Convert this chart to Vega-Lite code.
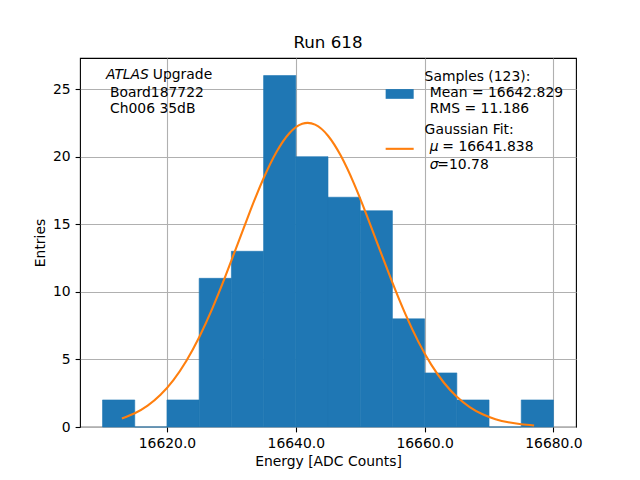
{
  "$schema": "https://vega.github.io/schema/vega-lite/v6.json",
  "width": 496,
  "height": 369,
  "autosize": {"type": "none"},
  "padding": {"left": 80, "top": 58, "right": 64, "bottom": 53},
  "background": "white",
  "title": {"text": "Run 618", "fontSize": 16.7, "fontWeight": "normal", "font": "DejaVu Sans", "color": "black", "offset": 6},
  "config": {
    "font": "DejaVu Sans",
    "view": {"stroke": "black", "strokeWidth": 1.1},
    "axis": {
      "labelFont": "DejaVu Sans",
      "labelFontSize": 13.9,
      "labelColor": "black",
      "titleFont": "DejaVu Sans",
      "titleFontSize": 13.9,
      "titleFontWeight": "normal",
      "titleColor": "black",
      "tickColor": "black",
      "tickSize": 4.9,
      "tickWidth": 1.1,
      "labelPadding": 4.9,
      "domain": false,
      "gridColor": "#b0b0b0",
      "gridWidth": 1.1,
      "gridOpacity": 1,
      "zindex": 1
    }
  },
  "datasets": {
    "hist": [
      {"bin_start": 16610, "bin_end": 16615, "count": 2},
      {"bin_start": 16615, "bin_end": 16620, "count": 0},
      {"bin_start": 16620, "bin_end": 16625, "count": 2},
      {"bin_start": 16625, "bin_end": 16630, "count": 11},
      {"bin_start": 16630, "bin_end": 16635, "count": 13},
      {"bin_start": 16635, "bin_end": 16640, "count": 26},
      {"bin_start": 16640, "bin_end": 16645, "count": 20},
      {"bin_start": 16645, "bin_end": 16650, "count": 17},
      {"bin_start": 16650, "bin_end": 16655, "count": 16},
      {"bin_start": 16655, "bin_end": 16660, "count": 8},
      {"bin_start": 16660, "bin_end": 16665, "count": 4},
      {"bin_start": 16665, "bin_end": 16670, "count": 2},
      {"bin_start": 16670, "bin_end": 16675, "count": 0},
      {"bin_start": 16675, "bin_end": 16680, "count": 2}
    ],
    "fit": [
      {"energy": 16613, "entries": 0.628},
      {"energy": 16615, "entries": 1.015},
      {"energy": 16617, "entries": 1.582},
      {"energy": 16619, "entries": 2.385},
      {"energy": 16621, "entries": 3.474},
      {"energy": 16623, "entries": 4.887},
      {"energy": 16625, "entries": 6.645},
      {"energy": 16627, "entries": 8.726},
      {"energy": 16629, "entries": 11.07},
      {"energy": 16631, "entries": 13.57},
      {"energy": 16633, "entries": 16.08},
      {"energy": 16635, "entries": 18.40},
      {"energy": 16637, "entries": 20.34},
      {"energy": 16639, "entries": 21.73},
      {"energy": 16641, "entries": 22.43},
      {"energy": 16643, "entries": 22.37},
      {"energy": 16645, "entries": 21.55},
      {"energy": 16647, "entries": 20.06},
      {"energy": 16649, "entries": 18.04},
      {"energy": 16651, "entries": 15.68},
      {"energy": 16653, "entries": 13.16},
      {"energy": 16655, "entries": 10.68},
      {"energy": 16657, "entries": 8.368},
      {"energy": 16659, "entries": 6.336},
      {"energy": 16661, "entries": 4.635},
      {"energy": 16663, "entries": 3.276},
      {"energy": 16665, "entries": 2.237},
      {"energy": 16667, "entries": 1.476},
      {"energy": 16669, "entries": 0.941},
      {"energy": 16671, "entries": 0.580},
      {"energy": 16673, "entries": 0.345},
      {"energy": 16675, "entries": 0.198},
      {"energy": 16677, "entries": 0.110}
    ],
    "one": [{}]
  },
  "layer": [
    {
      "data": {"name": "hist"},
      "mark": {"type": "rect", "color": "#1f77b4", "stroke": "#1f77b4", "strokeWidth": 0.6},
      "encoding": {
        "x": {
          "field": "bin_start",
          "type": "quantitative",
          "title": "Energy [ADC Counts]",
          "scale": {"domain": [16606.5, 16683.5], "nice": false, "zero": false},
          "axis": {"values": [16620, 16640, 16660, 16680], "format": ".1f", "titlePadding": 4}
        },
        "x2": {"field": "bin_end"},
        "y": {
          "field": "count",
          "type": "quantitative",
          "title": "Entries",
          "scale": {"domain": [0, 27.3], "nice": false},
          "axis": {"values": [0, 5, 10, 15, 20, 25], "titlePadding": 5}
        },
        "y2": {"datum": 0}
      }
    },
    {
      "data": {"name": "fit"},
      "mark": {"type": "line", "color": "#ff7f0e", "strokeWidth": 2.1, "interpolate": "natural"},
      "encoding": {
        "x": {"field": "energy", "type": "quantitative"},
        "y": {"field": "entries", "type": "quantitative"}
      }
    },
    {
      "data": {"name": "one"},
      "mark": {"type": "rect", "color": "#1f77b4"},
      "encoding": {
        "x": {"datum": 16653.95},
        "x2": {"datum": 16658.3},
        "y": {"datum": 24.28},
        "y2": {"datum": 25.0}
      }
    },
    {
      "data": {"name": "one"},
      "mark": {"type": "rule", "color": "#ff7f0e", "strokeWidth": 2.1},
      "encoding": {
        "x": {"datum": 16653.95},
        "x2": {"datum": 16658.3},
        "y": {"datum": 20.58}
      }
    },
    {
      "data": {"name": "one"},
      "mark": {"type": "text", "text": "ATLAS", "fontStyle": "italic", "fontSize": 13.9, "align": "left", "baseline": "middle", "color": "black"},
      "encoding": {"x": {"datum": 16610.52}, "y": {"datum": 26.05}}
    },
    {
      "data": {"name": "one"},
      "mark": {"type": "text", "text": "Upgrade", "fontSize": 13.9, "align": "left", "baseline": "middle", "color": "black"},
      "encoding": {"x": {"datum": 16617.8}, "y": {"datum": 26.05}}
    },
    {
      "data": {"name": "one"},
      "mark": {"type": "text", "text": "Board187722", "fontSize": 13.9, "align": "left", "baseline": "middle", "color": "black"},
      "encoding": {"x": {"datum": 16611.16}, "y": {"datum": 24.72}}
    },
    {
      "data": {"name": "one"},
      "mark": {"type": "text", "text": "Ch006 35dB", "fontSize": 13.9, "align": "left", "baseline": "middle", "color": "black"},
      "encoding": {"x": {"datum": 16611.16}, "y": {"datum": 23.55}}
    },
    {
      "data": {"name": "one"},
      "mark": {"type": "text", "text": "Samples (123):", "fontSize": 13.9, "align": "left", "baseline": "middle", "color": "black"},
      "encoding": {"x": {"datum": 16660.0}, "y": {"datum": 25.87}}
    },
    {
      "data": {"name": "one"},
      "mark": {"type": "text", "text": "Mean = 16642.829", "fontSize": 13.9, "align": "left", "baseline": "middle", "color": "black"},
      "encoding": {"x": {"datum": 16660.78}, "y": {"datum": 24.71}}
    },
    {
      "data": {"name": "one"},
      "mark": {"type": "text", "text": "RMS = 11.186", "fontSize": 13.9, "align": "left", "baseline": "middle", "color": "black"},
      "encoding": {"x": {"datum": 16660.78}, "y": {"datum": 23.53}}
    },
    {
      "data": {"name": "one"},
      "mark": {"type": "text", "text": "Gaussian Fit:", "fontSize": 13.9, "align": "left", "baseline": "middle", "color": "black"},
      "encoding": {"x": {"datum": 16660.0}, "y": {"datum": 22.0}}
    },
    {
      "data": {"name": "one"},
      "mark": {"type": "text", "text": "μ", "fontStyle": "italic", "fontSize": 13.9, "align": "left", "baseline": "middle", "color": "black"},
      "encoding": {"x": {"datum": 16660.78}, "y": {"datum": 20.69}}
    },
    {
      "data": {"name": "one"},
      "mark": {"type": "text", "text": "= 16641.838", "fontSize": 13.9, "align": "left", "baseline": "middle", "color": "black", "dx": 12.7},
      "encoding": {"x": {"datum": 16660.78}, "y": {"datum": 20.69}}
    },
    {
      "data": {"name": "one"},
      "mark": {"type": "text", "text": "σ", "fontStyle": "italic", "fontSize": 13.9, "align": "left", "baseline": "middle", "color": "black"},
      "encoding": {"x": {"datum": 16660.78}, "y": {"datum": 19.39}}
    },
    {
      "data": {"name": "one"},
      "mark": {"type": "text", "text": "=10.78", "fontSize": 13.9, "align": "left", "baseline": "middle", "color": "black", "dx": 7.7},
      "encoding": {"x": {"datum": 16660.78}, "y": {"datum": 19.39}}
    }
  ]
}
